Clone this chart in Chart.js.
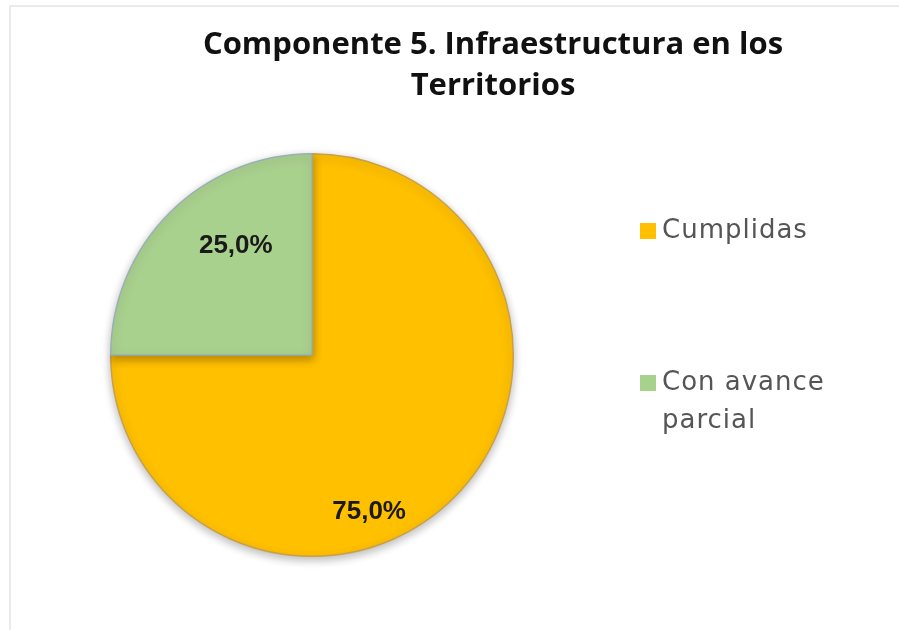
<!DOCTYPE html>
<html lang="es">
<head>
<meta charset="UTF-8">
<title>Componente 5. Infraestructura en los Territorios</title>
<script src="https://cdn.jsdelivr.net/npm/chart.js"></script>
<style>
  html, body { margin: 0; padding: 0; background: #fff; }
  .frame {
    position: absolute; left: 9px; top: 5px; width: 900px; height: 640px;
    border-left: 2px solid #ebebeb; border-top: 2px solid #ebebeb;
  }
  .wrap { position: relative; width: 899px; height: 630px; overflow: hidden; }
  canvas { position: absolute; left: 0; top: 0; }
</style>
</head>
<body>
<div class="wrap">
  <div class="frame"></div>
  <canvas id="pieChart" width="899" height="630"></canvas>
</div>
<script>
  // datos
  const titleLines = ['Componente 5. Infraestructura en los', 'Territorios'];
  const categories = ['Cumplidas', 'Con avance parcial'];
  const values = [75.0, 25.0];
  const colors = ['#FFC000', '#A9D18E'];
  const borders = ['#C9A04A', '#9AAFB5'];

  // dónde va cada etiqueta dentro de su sector (giro en grados y fracción del radio)
  const labelTurn = [25, 10];
  const labelRadius = [0.83, 0.66];

  const fmt = v => v.toFixed(1).replace('.', ',') + '%';

  const titlePlugin = {
    id: 'titleText',
    afterDraw(chart) {
      const ctx = chart.ctx;
      ctx.save();
      ctx.fillStyle = '#111';
      ctx.font = "bold 31px 'Open Sans', sans-serif";
      ctx.textAlign = 'center';
      ctx.textBaseline = 'middle';
      titleLines.forEach((t, i) => ctx.fillText(t, 493, 45 + i * 41));
      ctx.restore();
    }
  };

  const shadowPlugin = {
    id: 'pieShadow',
    beforeDatasetDraw(chart) {
      const ctx = chart.ctx;
      ctx.save();
      ctx.shadowColor = 'rgba(0,0,0,0.28)';
      ctx.shadowBlur = 10;
      ctx.shadowOffsetY = 3;
    },
    afterDatasetDraw(chart) {
      chart.ctx.restore();
    }
  };

  const sliceLabels = {
    id: 'sliceLabels',
    afterDatasetsDraw(chart) {
      const ctx = chart.ctx;
      const meta = chart.getDatasetMeta(0);
      ctx.save();
      ctx.fillStyle = '#1a1a1a';
      ctx.font = "bold 26px 'Liberation Sans', Arial, sans-serif";
      ctx.textAlign = 'center';
      ctx.textBaseline = 'middle';
      meta.data.forEach((arc, i) => {
        const p = arc.getProps(['x', 'y', 'startAngle', 'endAngle', 'outerRadius'], true);
        const a = (p.startAngle + p.endAngle) / 2 + labelTurn[i] * Math.PI / 180;
        const r = p.outerRadius * labelRadius[i];
        ctx.fillText(fmt(values[i]), p.x + Math.cos(a) * r, p.y + Math.sin(a) * r);
      });
      ctx.restore();
    }
  };

  const sideLegend = {
    id: 'sideLegend',
    afterDraw(chart) {
      const ctx = chart.ctx;
      const x0 = 640, rowY = [231, 383], lineH = 38, maxW = 190;
      ctx.save();
      ctx.font = "26px 'DejaVu Sans', sans-serif";
      ctx.letterSpacing = '1px';
      ctx.textBaseline = 'middle';
      categories.forEach((name, i) => {
        ctx.fillStyle = colors[i];
        ctx.fillRect(x0, rowY[i] - 8, 16, 16);
        // partir el texto en líneas
        const words = name.split(' ');
        const lines = [];
        let cur = '';
        words.forEach(w => {
          const test = cur ? cur + ' ' + w : w;
          if (ctx.measureText(test).width > maxW && cur) { lines.push(cur); cur = w; }
          else cur = test;
        });
        lines.push(cur);
        ctx.fillStyle = '#555';
        lines.forEach((l, j) => ctx.fillText(l, x0 + 22, rowY[i] + j * lineH));
      });
      ctx.restore();
    }
  };

  new Chart(document.getElementById('pieChart'), {
    type: 'pie',
    data: {
      labels: categories,
      datasets: [{
        data: values,
        backgroundColor: colors,
        borderColor: borders,
        borderWidth: 1.5
      }]
    },
    options: {
      responsive: false,
      animation: false,
      layout: { padding: { left: 87, right: 362, top: 153, bottom: 73 } },
      plugins: {
        legend: { display: false },
        title: { display: false },
        tooltip: { enabled: false }
      }
    },
    plugins: [shadowPlugin, sliceLabels, titlePlugin, sideLegend]
  });
</script>
</body>
</html>
